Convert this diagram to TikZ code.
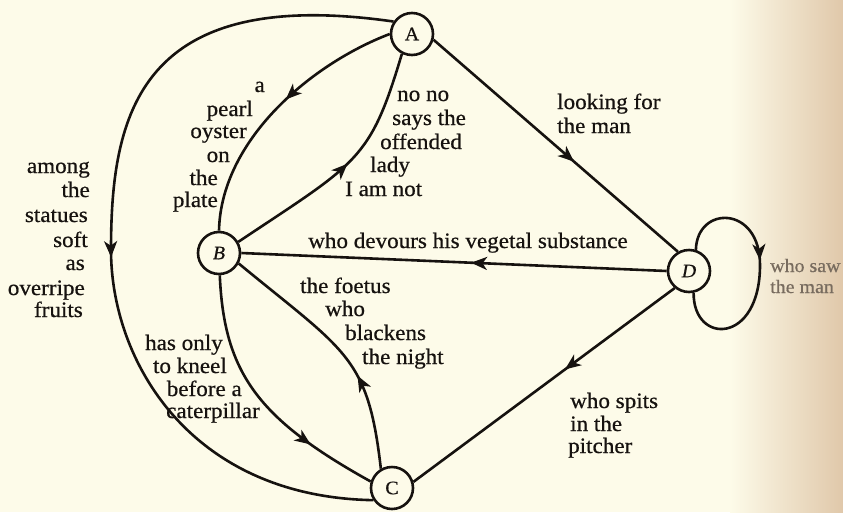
\documentclass[tikz,border=0pt]{standalone}
\usepackage{fontspec}
\setmainfont{Liberation Serif}[FakeStretch=1.05,FakeBold=0.6]
\usetikzlibrary{arrows.meta,decorations.markings}
\definecolor{paper}{RGB}{253,251,233}
\definecolor{binding}{RGB}{224,200,170}
\definecolor{ink}{RGB}{22,18,15}
\definecolor{faded}{RGB}{120,108,95}
\begin{document}
\begin{tikzpicture}[x=1pt,y=-1pt,
  stnode/.style={circle,draw=ink,line width=2.6pt,minimum size=42pt,inner sep=0pt,fill=paper,
    font=\fontsize{19}{19}\selectfont,text=ink},
  conn/.style={draw=ink,line width=2.6pt},
  midarrow/.style={postaction={decorate},decoration={markings,
    mark=at position #1 with {\arrow{Stealth[length=16pt,width=13pt,inset=4.5pt]}}}},
  lbl/.style={font=\fontsize{22}{24}\selectfont,text=ink,inner sep=0pt},
  fadedlbl/.style={font=\fontsize{19}{21}\selectfont,text=faded,inner sep=0pt}]
% page
\fill[paper] (0,0) rectangle (843,512);
\shade[left color=paper,right color=binding] (730,0) rectangle (843,512);
\useasboundingbox (0,0) rectangle (843,512);

% states
\node[stnode] (A) at (412,34) {A};
\node[stnode] (B) at (219,253) {\itshape B};
\node[stnode] (C) at (392,488) {C};
\node[stnode] (D) at (689,271) {\itshape D};
\coordinate (M) at (111,250);
\coordinate (L) at (760,265);

% connectors
\path[conn,midarrow=0.45] (A.180) .. controls (311,64) and (221,140) .. (B.90);
\path[conn,midarrow=0.52] (B.30) .. controls (358,162) and (370,161) .. (A.243);
\path[conn,midarrow=0.53] (A.146) .. controls (139,-15) and (111,114) .. (M)
   .. controls (111,361) and (190,497) .. (C.213);
\path[conn,midarrow=0.74] (B.-88) .. controls (224,373) and (258,419) .. (C.163);
\path[conn,midarrow=0.37] (C.120) .. controls (368,356) and (346,352) .. (B.-28);
\path[conn,midarrow=0.575] (A.-15) -- (D.120);
\path[conn,midarrow=0.46] (D.180) -- (B.0);
\path[conn,midarrow=0.42] (D.230) -- (C.16);
\path[conn,midarrow=0.44] (D.72) .. controls (697,205) and (760,205) .. (L)
   .. controls (760,345) and (693,345) .. (D.-78);

% labels: A -> B
\node[lbl,anchor=base east] (p1) at (265,92) {a};
\node[lbl,anchor=base east] (p2) at (253,116) {pearl};
\node[lbl,anchor=base east] (p3) at (247,138) {oyster};
\node[lbl,anchor=base east] (p4) at (230,162) {on};
\node[lbl,anchor=base east] (p5) at (218,185) {the};
\node[lbl,anchor=base east] (p6) at (218,207) {plate};
% A -> C big arc
\node[lbl,anchor=base east] (s1) at (90,173) {among};
\node[lbl,anchor=base east] (s2) at (90,197) {the};
\node[lbl,anchor=base east] (s3) at (88,222) {statues};
\node[lbl,anchor=base east] (s4) at (88,247) {soft};
\node[lbl,anchor=base east] (s5) at (85,270) {as};
\node[lbl,anchor=base east] (s6) at (85,295) {overripe};
\node[lbl,anchor=base east] (s7) at (83,317) {fruits};
% B -> A
\node[lbl,anchor=base west] (n1) at (397,101) {no no};
\node[lbl,anchor=base west] (n2) at (392,125) {says the};
\node[lbl,anchor=base west] (n3) at (380,149) {offended};
\node[lbl,anchor=base west] (n4) at (370,172) {lady};
\node[lbl,anchor=base west] (n5) at (345,196) {I am not};
% A -> D
\node[lbl,anchor=base west] (l1) at (557,109) {looking for};
\node[lbl,anchor=base west] (l2) at (557,133) {the man};
% D -> B
\node[lbl,anchor=base] (v1) at (468,248) {who devours his vegetal substance};
% C -> B
\node[lbl,anchor=base west] (f1) at (300,293) {the foetus};
\node[lbl,anchor=base west] (f2) at (325,316) {who};
\node[lbl,anchor=base west] (f3) at (345,340) {blackens};
\node[lbl,anchor=base west] (f4) at (362,364) {the night};
% B -> C
\node[lbl,anchor=base east] (k1) at (223,350) {has only};
\node[lbl,anchor=base east] (k2) at (227,373) {to kneel};
\node[lbl,anchor=base east] (k3) at (242,396) {before a};
\node[lbl,anchor=base east] (k4) at (260,418) {caterpillar};
% D -> C
\node[lbl,anchor=base west] (w1) at (570,408) {who spits};
\node[lbl,anchor=base west] (w2) at (570,431) {in the};
\node[lbl,anchor=base west] (w3) at (568,453) {pitcher};
% D loop
\node[fadedlbl,anchor=base west] (x1) at (770,272) {who saw};
\node[fadedlbl,anchor=base west] (x2) at (770,293) {the man};
\end{tikzpicture}
\end{document}
